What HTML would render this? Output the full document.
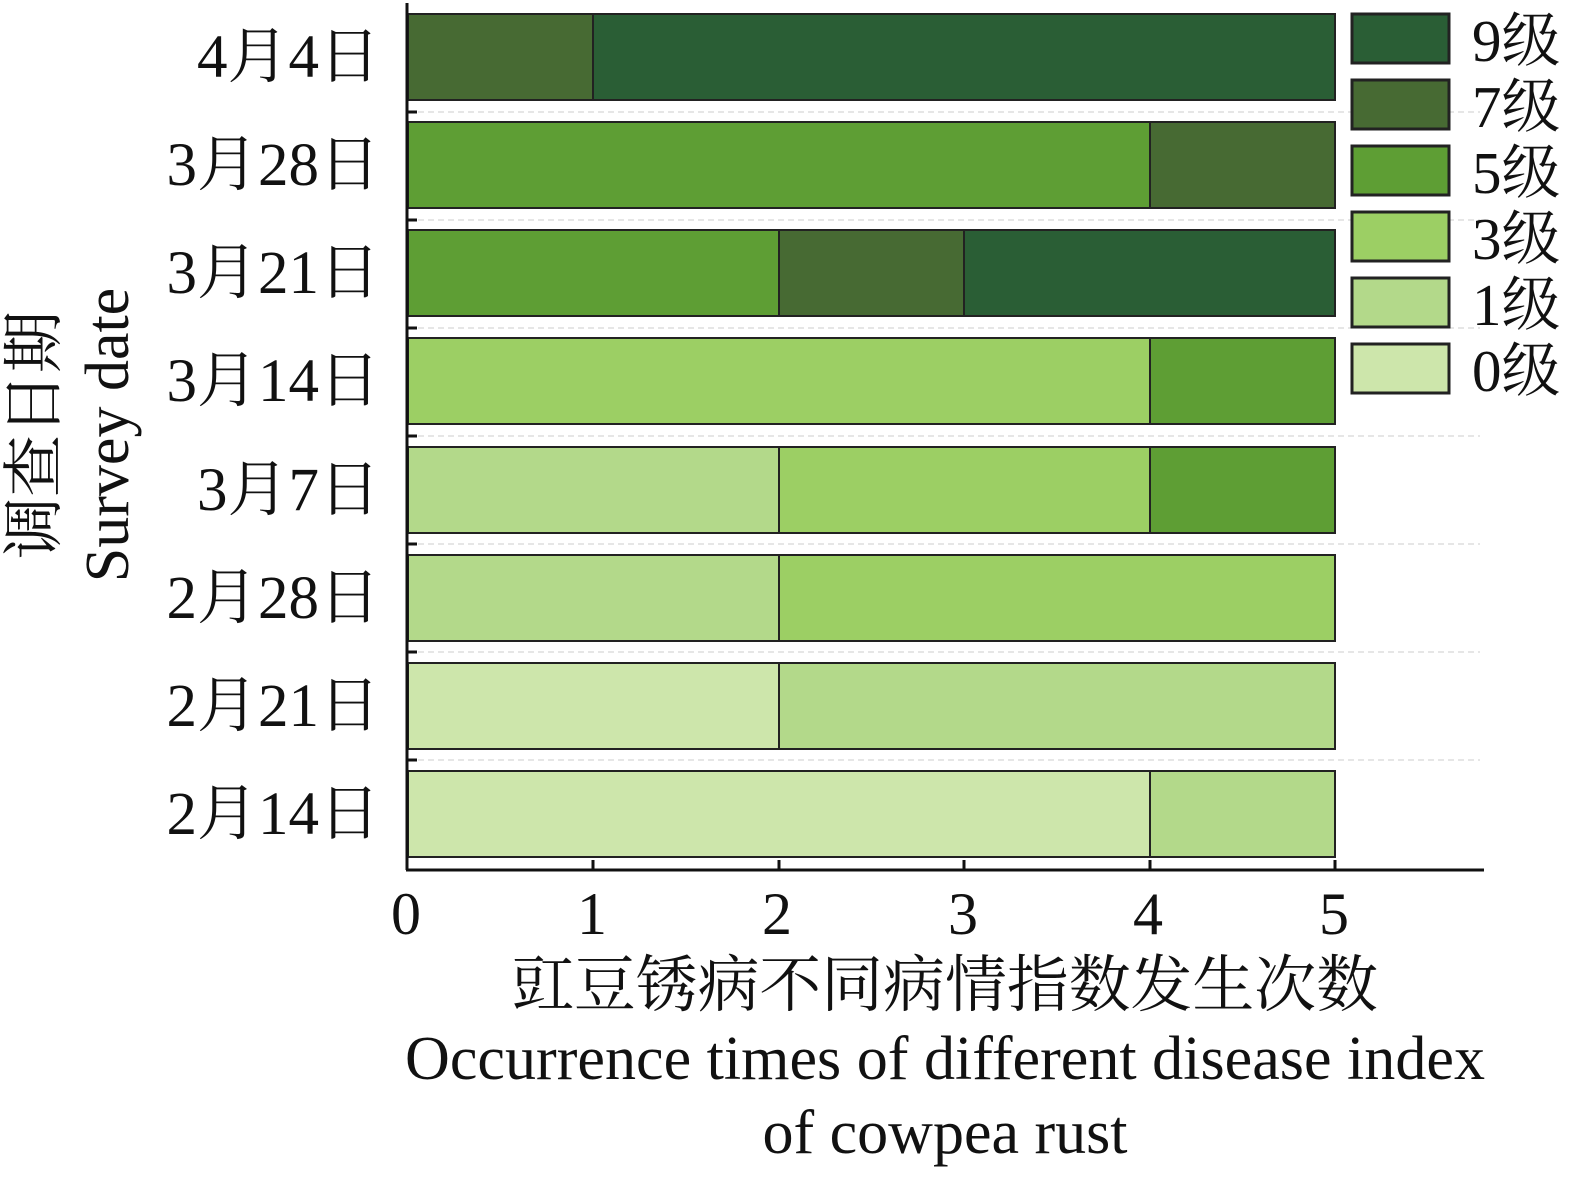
<html><head><style>body{margin:0;background:#fff}</style></head><body>
<svg width="1575" height="1180" xmlns="http://www.w3.org/2000/svg" font-family="'Liberation Serif','Noto Serif CJK SC',serif">
<g stroke="#ccc" stroke-dasharray="6,4" stroke-width="1">
<line x1="408" y1="112" x2="1480" y2="112"/><line x1="408" y1="220" x2="1480" y2="220"/><line x1="408" y1="328" x2="1480" y2="328"/><line x1="408" y1="436" x2="1480" y2="436"/><line x1="408" y1="544" x2="1480" y2="544"/><line x1="408" y1="652" x2="1480" y2="652"/><line x1="408" y1="760" x2="1480" y2="760"/>
</g>
<g stroke="#222" stroke-width="2">
<rect x="408" y="14" width="185" height="86" fill="#476a33"/><rect x="593" y="14" width="742" height="86" fill="#2a5e35"/>
<rect x="408" y="122" width="742" height="86" fill="#5e9e34"/><rect x="1150" y="122" width="185" height="86" fill="#476a33"/>
<rect x="408" y="230" width="371" height="86" fill="#5e9e34"/><rect x="779" y="230" width="185" height="86" fill="#476a33"/><rect x="964" y="230" width="371" height="86" fill="#2a5e35"/>
<rect x="408" y="338" width="742" height="86" fill="#9ccf64"/><rect x="1150" y="338" width="185" height="86" fill="#5e9e34"/>
<rect x="408" y="447" width="371" height="86" fill="#b3d98a"/><rect x="779" y="447" width="371" height="86" fill="#9ccf64"/><rect x="1150" y="447" width="185" height="86" fill="#5e9e34"/>
<rect x="408" y="555" width="371" height="86" fill="#b3d98a"/><rect x="779" y="555" width="556" height="86" fill="#9ccf64"/>
<rect x="408" y="663" width="371" height="86" fill="#cde6ab"/><rect x="779" y="663" width="556" height="86" fill="#b3d98a"/>
<rect x="408" y="771" width="742" height="86" fill="#cde6ab"/><rect x="1150" y="771" width="185" height="86" fill="#b3d98a"/>
</g>
<g stroke="#111" stroke-width="3" fill="none">
<line x1="407" y1="3" x2="407" y2="870"/><line x1="406" y1="870" x2="1484" y2="870"/>
<line x1="593" y1="870" x2="593" y2="860"/><line x1="779" y1="870" x2="779" y2="860"/><line x1="964" y1="870" x2="964" y2="860"/><line x1="1150" y1="870" x2="1150" y2="860"/><line x1="1335" y1="870" x2="1335" y2="860"/>
<line x1="407" y1="112" x2="417" y2="112"/><line x1="407" y1="220" x2="417" y2="220"/><line x1="407" y1="328" x2="417" y2="328"/><line x1="407" y1="436" x2="417" y2="436"/><line x1="407" y1="544" x2="417" y2="544"/><line x1="407" y1="652" x2="417" y2="652"/><line x1="407" y1="760" x2="417" y2="760"/>
</g>
<g stroke="#222" stroke-width="3">
<rect x="1352" y="14" width="97" height="49" fill="#2a5e35"/><rect x="1352" y="80" width="97" height="49" fill="#476a33"/><rect x="1352" y="146" width="97" height="49" fill="#5e9e34"/><rect x="1352" y="212" width="97" height="49" fill="#9ccf64"/><rect x="1352" y="278" width="97" height="49" fill="#b3d98a"/><rect x="1352" y="344" width="97" height="49" fill="#cde6ab"/>
</g>
<g font-size="59" fill="#111">
<text x="1472" y="61">9级</text><text x="1472" y="127">7级</text><text x="1472" y="193">5级</text><text x="1472" y="259">3级</text><text x="1472" y="325">1级</text><text x="1472" y="391">0级</text>
</g>
<g font-size="61" fill="#111" text-anchor="end">
<text x="380" y="77">4月4日</text><text x="380" y="185">3月28日</text><text x="380" y="293">3月21日</text><text x="380" y="401">3月14日</text><text x="380" y="510">3月7日</text><text x="380" y="618">2月28日</text><text x="380" y="726">2月21日</text><text x="380" y="834">2月14日</text>
</g>
<g font-size="60" fill="#111" text-anchor="middle">
<text x="406" y="934">0</text><text x="592" y="934">1</text><text x="777" y="934">2</text><text x="963" y="934">3</text><text x="1148" y="934">4</text><text x="1334" y="934">5</text>
</g>
<g font-size="62" fill="#111" text-anchor="middle">
<text x="945" y="1006" textLength="866" lengthAdjust="spacingAndGlyphs">豇豆锈病不同病情指数发生次数</text>
<text x="945" y="1079" textLength="1080" lengthAdjust="spacingAndGlyphs">Occurrence times of different disease index</text>
<text x="945" y="1153">of cowpea rust</text>
<text transform="translate(55,435) rotate(-90)">调查日期</text>
<text transform="translate(128,435) rotate(-90)">Survey date</text>
</g>
</svg>
</body></html>
